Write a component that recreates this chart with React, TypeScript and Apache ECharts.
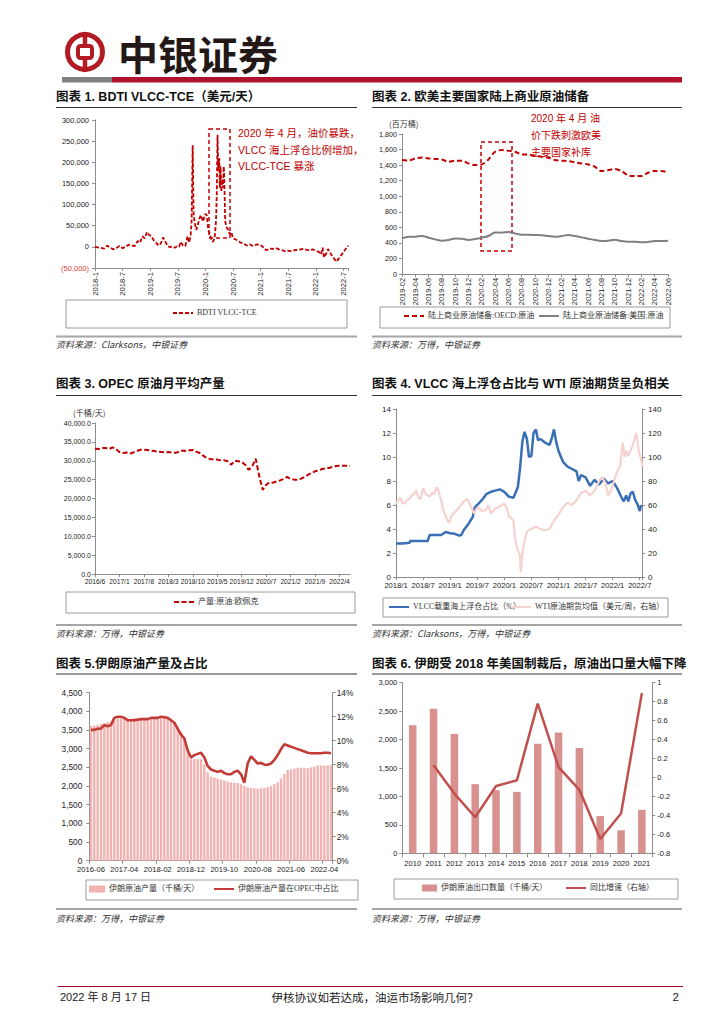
import React, { useEffect, useRef } from "react";
import * as echarts from "echarts";

const RED = "#C00000";
const NARROW = '"Liberation Sans Narrow", "Arial Narrow", "Liberation Sans", Arial, sans-serif';
const SANS = '"Liberation Sans", "Noto Sans CJK SC", sans-serif';
const CJK = '"Noto Sans CJK SC", "Liberation Sans", sans-serif';
const SERIF = '"Liberation Serif", "Noto Sans CJK SC", serif';

function monthsFrom(y: number, m: number, n: number): string[] {
  const out: string[] = [];
  for (let i = 0; i < n; i++) {
    const t = (m - 1) + i;
    const yy = y + Math.floor(t / 12);
    const mm = (t % 12) + 1;
    out.push(`${yy}-${mm < 10 ? "0" + mm : mm}`);
  }
  return out;
}
function monthPos(d: string): number {
  const [y, m, day] = d.split("-").map(Number);
  return (y - 2018) * 12 + (m - 1) + ((day || 1) - 1) / 30;
}

// ---------- Chart 1: BDTI VLCC-TCE ----------
const bdtiTickLabels = ["2018-1", "2018-7", "2019-1", "2019-7", "2020-1", "2020-7", "2021-1", "2021-7", "2022-1", "2022-7"];
const bdtiDates = [
  "2018-01-01", "2018-02-01", "2018-03-01", "2018-03-20", "2018-04-10", "2018-05-01", "2018-05-20", "2018-06-10", "2018-07-01", "2018-07-20", "2018-08-10", "2018-09-01", "2018-09-20", "2018-10-10", "2018-10-25", "2018-11-10", "2018-11-25", "2018-12-10", "2018-12-25",
  "2019-01-10", "2019-01-25", "2019-02-10", "2019-02-25", "2019-03-10", "2019-03-25", "2019-04-10", "2019-04-25", "2019-05-10", "2019-05-25", "2019-06-10", "2019-06-25", "2019-07-10", "2019-07-20", "2019-08-05", "2019-08-20", "2019-09-05", "2019-09-15", "2019-09-25", "2019-10-01", "2019-10-08", "2019-10-14", "2019-10-20", "2019-11-01", "2019-11-10", "2019-11-20", "2019-12-01", "2019-12-15",
  "2020-01-01", "2020-01-10", "2020-01-20", "2020-02-01", "2020-02-10", "2020-02-20", "2020-03-01", "2020-03-10", "2020-03-15", "2020-03-20", "2020-03-25", "2020-04-01", "2020-04-05", "2020-04-10", "2020-04-15", "2020-04-20", "2020-04-25", "2020-05-01", "2020-05-05", "2020-05-10", "2020-05-20", "2020-06-01", "2020-06-10", "2020-06-20", "2020-07-01", "2020-07-15", "2020-08-01", "2020-08-20", "2020-09-10", "2020-10-01", "2020-10-20", "2020-11-10", "2020-12-01", "2020-12-20",
  "2021-01-10", "2021-01-25", "2021-02-10", "2021-03-01", "2021-03-20", "2021-04-10", "2021-05-01", "2021-05-20", "2021-06-10", "2021-07-01", "2021-07-20", "2021-08-10", "2021-09-01", "2021-09-20", "2021-10-10", "2021-11-01", "2021-11-20", "2021-12-10",
  "2022-01-01", "2022-01-20", "2022-02-05", "2022-02-15", "2022-02-25", "2022-03-10", "2022-03-20", "2022-04-01", "2022-04-15", "2022-05-01", "2022-05-15", "2022-06-01", "2022-06-20", "2022-07-10", "2022-07-25", "2022-08-05",
];
const bdtiValues = [
  0, -2000, -4000, 3000, -2000, -6000, -3000, 2000, -3000, 0, 5000, 3000, 2000, 14000, 10000, 25000, 20000, 35000, 28000,
  25000, 15000, 10000, 3000, 8000, 22000, 12000, 2000, -1000, 1000, -2000, 1000, 0, 12000, 3000, 2000, 25000, 10000, 28000, 60000, 240000, 80000, 60000, 40000, 50000, 65000, 75000, 60000,
  78000, 75000, 40000, 30000, 15000, 12000, 20000, 60000, 120000, 265000, 180000, 210000, 140000, 190000, 130000, 160000, 140000, 190000, 150000, 60000, 45000, 40000, 30000, 35000, 20000, 18000, 15000, 10000, 8000, 3000, 6000, 2000, 5000, 6000,
  2000, -5000, -8000, -4000, -5000, -3000, -6000, -8000, -10000, -9000, -10000, -8000, -7000, -6000, -5000, -7000, -8000, -6000,
  -9000, -12000, -18000, -2000, -25000, -15000, -5000, -12000, -20000, -28000, -35000, -28000, -18000, -8000, 0, 3000,
];

// ---------- Chart 2: crude stocks ----------
const stockMonths = monthsFrom(2019, 2, 41);
const oecdStocks = [
  1465, 1460, 1486, 1499, 1486, 1480, 1473, 1443, 1456, 1456, 1422,
  1400, 1409, 1473, 1572, 1593, 1585, 1572, 1537, 1535, 1520, 1507, 1495,
  1465, 1456, 1452, 1435, 1422, 1409, 1379, 1323, 1336, 1349, 1323, 1268,
  1259, 1259, 1302, 1323, 1323, 1306,
];
const usStocks = [
  458, 480, 480, 488, 467, 445, 428, 437, 458, 454, 437,
  450, 467, 488, 535, 531, 540, 522, 505, 505, 501, 497, 488,
  480, 488, 501, 488, 471, 454, 437, 424, 428, 441, 424, 415,
  415, 407, 411, 424, 424, 428,
];

// ---------- Chart 3: OPEC output ----------
const opecMonths = monthsFrom(2016, 6, 74);
const opecOutput = [
  33200, 33100, 33380, 33400, 33100, 33550, 33100,
  32300, 32050, 32200, 31900, 32200, 32600, 32900, 32900, 32850, 32700, 32600, 32400,
  32300, 32200, 32300, 32150, 32100, 32300, 32700, 32600, 32800, 32850, 32400, 32050,
  31350, 30700, 30450, 30300, 30300, 30100, 30100, 29850, 28950, 30000, 29850, 29700,
  28950, 27600, 28500, 30550, 26000, 22300, 23650, 24300, 24200, 24550, 24800, 25150,
  25700, 25150, 25000, 25000, 25250, 25700, 26300, 26750, 27200, 27450, 27800, 28000,
  28100, 28350, 28600, 28700, 28700, 28650, 28600,
];

// ---------- Chart 4: VLCC floating storage vs WTI ----------
const vlccTickLabels = ["2018/1", "2018/7", "2019/1", "2019/7", "2020/1", "2020/7", "2021/1", "2021/7", "2022/1", "2022/7"];
const vlccDates = [
  "2018-01-01", "2018-02-15", "2018-04-01", "2018-04-05", "2018-06-01", "2018-08-01", "2018-08-15", "2018-10-01", "2018-11-01", "2018-12-01",
  "2019-01-01", "2019-02-01", "2019-03-01", "2019-03-15", "2019-04-01", "2019-05-01", "2019-06-01", "2019-06-15", "2019-07-01", "2019-08-01", "2019-09-01", "2019-10-01", "2019-11-01", "2019-12-01",
  "2020-01-01", "2020-02-01", "2020-03-01", "2020-03-15", "2020-04-01", "2020-04-15", "2020-05-01", "2020-05-15", "2020-06-01", "2020-06-15", "2020-07-01", "2020-07-15", "2020-08-01", "2020-08-15", "2020-09-01", "2020-10-01", "2020-11-01", "2020-11-15", "2020-12-01", "2020-12-15",
  "2021-01-01", "2021-02-01", "2021-03-01", "2021-04-01", "2021-05-01", "2021-05-15", "2021-06-01", "2021-07-01", "2021-08-01", "2021-09-01", "2021-10-01", "2021-11-01", "2021-12-01",
  "2022-01-01", "2022-02-01", "2022-03-01", "2022-03-15", "2022-04-01", "2022-04-15", "2022-05-01", "2022-05-15", "2022-06-01", "2022-06-15", "2022-07-01", "2022-07-10",
];
const vlccShare = [
  2.8, 2.8, 2.85, 3.0, 3.0, 3.0, 3.5, 3.5, 3.5, 3.75,
  3.65, 3.6, 3.45, 3.5, 3.9, 4.4, 5.0, 5.8, 6.0, 6.4, 6.9, 7.1, 7.2, 7.3,
  7.1, 6.7, 6.6, 7.0, 7.5, 9.0, 11.3, 12.1, 11.5, 10.0, 10.1, 12.0, 12.3, 11.4, 11.5, 11.2, 11.0, 11.5, 12.3, 11.3,
  10.5, 9.6, 9.2, 9.0, 8.8, 8.0, 8.5, 8.3, 7.6, 8.1, 7.7, 8.2, 7.8,
  8.0, 7.4, 6.6, 6.3, 6.8, 6.3, 7.0, 7.1, 6.4, 6.1, 5.5, 6.0,
];
const wtiDates = [
  "2018-01-01", "2018-01-15", "2018-02-01", "2018-02-15", "2018-03-01", "2018-03-15", "2018-04-01", "2018-04-15", "2018-05-01", "2018-05-15", "2018-06-01", "2018-06-15", "2018-07-01", "2018-07-15", "2018-08-01", "2018-08-15", "2018-09-01", "2018-09-15", "2018-10-01", "2018-10-15", "2018-11-01", "2018-11-15", "2018-12-01", "2018-12-15", "2018-12-25",
  "2019-01-10", "2019-02-01", "2019-03-01", "2019-04-01", "2019-04-25", "2019-05-15", "2019-06-10", "2019-07-01", "2019-07-15", "2019-08-01", "2019-09-01", "2019-09-15", "2019-10-01", "2019-11-01", "2019-12-01",
  "2020-01-01", "2020-01-15", "2020-02-01", "2020-03-01", "2020-03-15", "2020-04-01", "2020-04-15", "2020-04-21", "2020-05-01", "2020-05-15", "2020-06-01", "2020-07-01", "2020-08-01", "2020-09-01", "2020-10-01", "2020-11-01", "2020-12-01",
  "2021-01-01", "2021-02-01", "2021-03-01", "2021-04-01", "2021-05-01", "2021-06-01", "2021-07-01", "2021-08-01", "2021-09-01", "2021-10-01", "2021-10-20", "2021-11-15", "2021-12-01", "2021-12-20",
  "2022-01-10", "2022-02-01", "2022-02-20", "2022-03-08", "2022-03-20", "2022-04-01", "2022-04-15", "2022-05-01", "2022-05-15", "2022-06-08", "2022-06-25", "2022-07-10", "2022-07-20",
];
const wtiPrice = [
  61, 64, 66, 61, 62, 64, 65, 68, 69, 72, 66, 65, 74, 70, 68, 67, 70, 69, 75, 71, 64, 56, 51, 47, 45,
  51, 54, 58, 63, 65, 60, 53, 58, 57, 55, 56, 60, 53, 57, 59,
  61, 58, 51, 47, 30, 22, 18, 4, 20, 30, 38, 40, 42, 40, 39, 40, 47,
  52, 58, 62, 60, 64, 70, 72, 68, 72, 80, 83, 78, 68, 72,
  80, 88, 92, 112, 100, 105, 101, 106, 110, 120, 105, 98, 92,
];

// ---------- Chart 5: Iran output & OPEC share ----------
const iranMonths = monthsFrom(2016, 6, 73);
const iranOutput = [
  3607, 3620, 3630, 3660, 3690, 3710, 3724,
  3760, 3810, 3810, 3800, 3780, 3770, 3820, 3830, 3830, 3820, 3820, 3830,
  3820, 3820, 3820, 3830, 3830, 3800, 3720, 3580, 3450, 3300, 2950, 2740,
  2720, 2720, 2720, 2580, 2370, 2250, 2230, 2200, 2170, 2150, 2120, 2100,
  2090, 2080, 2050, 2000, 1965, 1950, 1940, 1930, 1940, 1950, 1970, 2000,
  2050, 2100, 2200, 2320, 2430, 2450, 2470, 2490, 2490, 2480, 2480, 2500,
  2520, 2550, 2550, 2550, 2550, 2570,
];
const iranShare = [
  10.9, 10.9, 11.0, 11.0, 11.3, 11.2, 11.3,
  11.9, 12.0, 12.0, 11.9, 11.7, 11.7, 11.7, 11.75, 11.8, 11.8, 11.8, 11.9,
  11.9, 11.9, 12.0, 11.95, 11.9, 11.7, 11.5, 11.0, 10.5, 10.2, 9.2, 8.6,
  8.8, 8.9, 9.0, 8.6, 7.9, 7.6, 7.5, 7.4, 7.5, 7.3, 7.2, 7.2,
  7.4, 7.5, 7.2, 6.5, 8.1, 8.7, 8.4, 8.1, 8.15, 8.0, 8.0, 8.1,
  8.4, 8.8, 9.3, 9.7, 9.6, 9.5, 9.4, 9.3, 9.2, 9.1, 9.0, 8.95,
  8.95, 8.95, 8.95, 9.0, 9.0, 8.95,
];

// ---------- Chart 6: Iran exports ----------
const exportYears = ["2010", "2011", "2012", "2013", "2014", "2015", "2016", "2017", "2018", "2019", "2020", "2021"];
const iranExports = [2250, 2540, 2100, 1215, 1110, 1080, 1925, 2125, 1850, 655, 405, 765];
const exportYoY = [null, 0.13, -0.17, -0.42, -0.09, -0.03, 0.78, 0.11, -0.13, -0.65, -0.38, 0.89];

// ---------- helpers ----------
const AX = "#8c8c8c";
const axisLine = { show: true, onZero: false, lineStyle: { color: AX, width: 1 } };
const axisTick = { show: true, length: 3, lineStyle: { color: AX } };
function lbl(fontSize: number, extra: any = {}) {
  return { color: "#222", fontFamily: NARROW, fontSize, hideOverlap: false, ...extra };
}
function comma(v: number) {
  return Math.abs(v).toString().replace(/\B(?=(\d{3})+(?!\d))/g, ",");
}
function txt(x: number, y: number, text: string, o: any = {}) {
  return {
    type: "text", x, y, silent: true, z: 10,
    style: {
      text, fill: o.fill ?? "#222", fontSize: o.size ?? 10, fontFamily: o.family ?? SANS,
      fontWeight: o.weight ?? "normal", fontStyle: o.italic ? "italic" : "normal",
      textAlign: o.align ?? "left", textVerticalAlign: "middle", verticalAlign: "middle",
    },
  };
}
function hline(x1: number, x2: number, y: number, stroke: string, lw: number) {
  return { type: "line", silent: true, shape: { x1, y1: y, x2, y2: y }, style: { stroke, lineWidth: lw } };
}
function box(x: number, y: number, w: number, h: number, stroke = "#9a9a9a", dash?: number[], lw = 1) {
  return { type: "rect", silent: true, shape: { x, y, width: w, height: h }, style: { fill: "none", stroke, lineWidth: lw, lineDash: dash } };
}
function legendAt(name: string, left: number, cy: number, extra: any = {}) {
  return {
    data: [name], left, top: cy - 5, padding: 0, itemWidth: 20, itemHeight: 7, itemGap: 4,
    textStyle: { fontSize: 8, fontFamily: SERIF, color: "#333", padding: [0, 0, 0, -1] },
    itemStyle: { opacity: 0 },
    selectedMode: false, ...extra,
  };
}

function buildOption(): any {
  const BOC = "#B31B24";
  const titleFont = { size: 12.5, weight: "bold", family: SANS, fill: "#111" };
  const srcFont = { size: 9, italic: true, family: CJK, fill: "#333" };
  const graphic: any[] = [
    // header logo
    { type: "circle", silent: true, shape: { cx: 85, cy: 52, r: 17.5 }, style: { fill: "none", stroke: BOC, lineWidth: 5 } },
    { type: "rect", silent: true, shape: { x: 78, y: 46, width: 14, height: 12, r: 2.5 }, style: { fill: "none", stroke: BOC, lineWidth: 4 } },
    { type: "line", silent: true, shape: { x1: 85, y1: 34, x2: 85, y2: 46 }, style: { stroke: BOC, lineWidth: 4.5 } },
    { type: "line", silent: true, shape: { x1: 85, y1: 58, x2: 85, y2: 70 }, style: { stroke: BOC, lineWidth: 4.5 } },
    txt(118, 53, "中银证券", { size: 40, weight: "bold", family: CJK, fill: "#231815" }),
    { type: "rect", silent: true, shape: { x: 62, y: 77, width: 50, height: 5.5 }, style: { fill: "#808080" } },
    { type: "rect", silent: true, shape: { x: 112, y: 77, width: 570, height: 5.5 }, style: { fill: "#B0122D" } },

    // section titles
    txt(56, 97, "图表 1. BDTI VLCC-TCE（美元/天）", titleFont),
    txt(372, 97, "图表 2. 欧美主要国家陆上商业原油储备", titleFont),
    hline(56, 357, 107.5, "#333", 1),
    hline(372, 682, 107.5, "#333", 1),
    txt(56, 384, "图表 3. OPEC 原油月平均产量", titleFont),
    txt(372, 384, "图表 4. VLCC 海上浮仓占比与 WTI 原油期货呈负相关", titleFont),
    hline(56, 357, 395.5, "#333", 1),
    hline(372, 682, 395.5, "#333", 1),
    txt(56, 664, "图表 5.伊朗原油产量及占比", titleFont),
    txt(372, 664, "图表 6. 伊朗受 2018 年美国制裁后，原油出口量大幅下降", titleFont),
    hline(56, 357, 674, "#333", 1),
    hline(372, 682, 674, "#333", 1),

    // bottom rules & sources
    hline(56, 357, 336.5, "#a6a6a6", 2),
    hline(372, 682, 336.5, "#a6a6a6", 2),
    txt(56, 344, "资料来源：Clarksons，中银证券", srcFont),
    txt(372, 344, "资料来源：万得，中银证券", srcFont),
    hline(56, 357, 625, "#a6a6a6", 2),
    hline(372, 682, 625, "#a6a6a6", 2),
    txt(56, 633, "资料来源：万得，中银证券", srcFont),
    txt(372, 633, "资料来源：Clarksons，万得，中银证券", srcFont),
    hline(56, 357, 909, "#a6a6a6", 2),
    hline(372, 682, 909, "#a6a6a6", 2),
    txt(56, 918, "资料来源：万得，中银证券", srcFont),
    txt(372, 918, "资料来源：万得，中银证券", srcFont),

    // legend boxes
    box(66, 300, 281, 28),
    box(380, 307, 290, 21),
    box(66, 592, 289, 21),
    box(383, 598, 285, 19),
    box(86, 880, 272, 20),
    box(394, 879, 284, 20),

    // annotations
    box(209, 129, 21, 109, RED, [4, 3], 1.5),
    txt(238, 133, "2020 年 4 月，油价暴跌，", { size: 10.5, fill: RED }),
    txt(238, 150, "VLCC 海上浮仓比例增加，", { size: 10.5, fill: RED }),
    txt(238, 166, "VLCC-TCE 暴涨", { size: 10.5, fill: RED }),
    box(481, 142, 31, 109, RED, [4, 3], 1.5),
    txt(531, 118, "2020 年 4 月 油", { size: 10, fill: RED }),
    txt(531, 135, "价下跌刺激欧美", { size: 10, fill: RED }),
    txt(531, 152, "主要国家补库", { size: 10, fill: RED }),

    // axis unit labels
    txt(389, 123, "(百万桶)", { size: 8, family: CJK, fill: "#333" }),
    txt(73, 412, "(千桶/天)", { size: 8, family: CJK, fill: "#333" }),

    // footer
    hline(58, 683, 986.5, "#9E0B23", 1.2),
    txt(60, 997, "2022 年 8 月 17 日", { size: 11, family: SANS, fill: "#222" }),
    txt(375, 997, "伊核协议如若达成，油运市场影响几何？", { size: 11.5, family: CJK, fill: "#222", align: "center" }),
    txt(679, 997, "2", { size: 11.5, family: SANS, fill: "#222", align: "right" }),
  ];

  const grid = [
    { left: 95, top: 120, width: 253, height: 148 },
    { left: 402, top: 134, width: 266, height: 140 },
    { left: 95, top: 423, width: 255, height: 151 },
    { left: 396, top: 409, width: 246, height: 168 },
    { left: 89.3, top: 692.7, width: 243.4, height: 168 },
    { left: 402.3, top: 682.7, width: 250, height: 170.6 },
  ].map((g) => ({ ...g, containLabel: false, outerBoundsMode: "none" }));

  const xAxis = [
    {
      gridIndex: 0, type: "value", min: 0, max: 55, interval: 6, axisLine, axisTick, splitLine: { show: false },
      axisLabel: lbl(7.6, { rotate: 90, margin: 4, formatter: (v: number) => (v % 6 === 0 ? bdtiTickLabels[v / 6] ?? "" : "") }),
    },
    {
      gridIndex: 1, type: "category", data: stockMonths, boundaryGap: false, axisLine,
      axisTick: { ...axisTick, interval: 1 }, axisLabel: lbl(7.4, { rotate: 90, interval: 1, margin: 4 }),
    },
    {
      gridIndex: 2, type: "category", data: opecMonths, boundaryGap: false, axisLine,
      axisTick: { ...axisTick, interval: 6 },
      axisLabel: lbl(6.7, { interval: 6, margin: 4, formatter: (v: string) => { const [y, m] = v.split("-"); return `${y}/${Number(m)}`; } }),
    },
    {
      gridIndex: 3, type: "value", min: 0, max: 54.5, interval: 6, axisLine, axisTick, splitLine: { show: false },
      axisLabel: lbl(7.6, { margin: 4, formatter: (v: number) => (v % 6 === 0 ? vlccTickLabels[v / 6] ?? "" : "") }),
    },
    {
      gridIndex: 4, type: "category", data: iranMonths, boundaryGap: true, axisLine,
      axisTick: { ...axisTick, interval: 9 }, axisLabel: lbl(7.6, { interval: 9, margin: 5 }),
    },
    {
      gridIndex: 5, type: "category", data: exportYears, boundaryGap: true, axisLine,
      axisTick: { ...axisTick, length: 4 }, axisLabel: lbl(7.5, { interval: 0, margin: 6 }),
    },
  ];

  const yv = (o: any) => ({ type: "value", axisLine, axisTick, splitLine: { show: false }, ...o });
  const yAxis = [
    yv({
      gridIndex: 0, min: -50000, max: 300000, interval: 50000,
      axisLabel: lbl(7.5, { margin: 6, formatter: (v: number) => (v < 0 ? `(${comma(v)})` : comma(v)), color: (v: any) => (Number(v) < 0 ? "#E0433A" : "#222") }),
    }),
    yv({ gridIndex: 1, min: 0, max: 1800, interval: 200, axisLabel: lbl(7.2, { margin: 5, formatter: (v: number) => comma(v) }) }),
    yv({ gridIndex: 2, min: 0, max: 40000, interval: 5000, axisLabel: lbl(7, { margin: 4, formatter: (v: number) => `${comma(v)}.0` }) }),
    yv({ gridIndex: 3, min: 0, max: 14, interval: 2, axisLabel: lbl(8, { margin: 5 }) }),
    yv({ gridIndex: 3, position: "right", min: 0, max: 140, interval: 20, axisLabel: lbl(8, { margin: 6 }) }),
    yv({ gridIndex: 4, min: 0, max: 4500, interval: 500, axisLabel: lbl(8.3, { margin: 7, formatter: (v: number) => comma(v) }) }),
    yv({ gridIndex: 4, position: "right", min: 0, max: 14, interval: 2, axisLabel: lbl(8.3, { margin: 4, formatter: (v: number) => `${v}%` }) }),
    yv({ gridIndex: 5, min: 0, max: 3000, interval: 500, axisLabel: lbl(7.5, { margin: 5 }) }),
    yv({
      gridIndex: 5, position: "right", min: -0.8, max: 1, interval: 0.2,
      axisLabel: lbl(7.5, { margin: 5, formatter: (v: number) => String(Number(v.toFixed(1))) }),
    }),
  ];

  const series = [
    {
      type: "line", name: "BDTI VLCC-TCE", xAxisIndex: 0, yAxisIndex: 0, symbol: "none",
      data: bdtiDates.map((d, i) => [monthPos(d), bdtiValues[i]]),
      lineStyle: { color: RED, width: 1.8, type: [4, 2] }, itemStyle: { color: RED },
    },
    {
      type: "line", name: "陆上商业原油储备:OECD:原油", xAxisIndex: 1, yAxisIndex: 1, symbol: "none", smooth: 0.3,
      data: oecdStocks, lineStyle: { color: RED, width: 2, type: [5, 3] }, itemStyle: { color: RED },
    },
    {
      type: "line", name: "陆上商业原油储备:美国:原油", xAxisIndex: 1, yAxisIndex: 1, symbol: "none", smooth: 0.3,
      data: usStocks, lineStyle: { color: "#808080", width: 2 }, itemStyle: { color: "#808080" },
    },
    {
      type: "line", name: "产量:原油:欧佩克", xAxisIndex: 2, yAxisIndex: 2, symbol: "none",
      data: opecOutput, lineStyle: { color: RED, width: 2, type: [5, 2.5] }, itemStyle: { color: RED },
    },
    {
      type: "line", name: "VLCC载重海上浮仓占比（%）", xAxisIndex: 3, yAxisIndex: 3, symbol: "none",
      data: vlccDates.map((d, i) => [monthPos(d), vlccShare[i]]),
      lineStyle: { color: "#3A6FB6", width: 2.5 }, itemStyle: { color: "#3A6FB6" },
    },
    {
      type: "line", name: "WTI原油期货均值（美元/周，右轴）", xAxisIndex: 3, yAxisIndex: 4, symbol: "none",
      data: wtiDates.map((d, i) => [monthPos(d), wtiPrice[i]]),
      lineStyle: { color: "#F6D2D0", width: 2.2 }, itemStyle: { color: "#F6D2D0" },
    },
    {
      type: "bar", name: "伊朗原油产量（千桶/天）", xAxisIndex: 4, yAxisIndex: 5,
      data: iranOutput, barCategoryGap: "28%", itemStyle: { color: "#F2B2B1" },
    },
    {
      type: "line", name: "伊朗原油产量在OPEC中占比", xAxisIndex: 4, yAxisIndex: 6, symbol: "none",
      data: iranShare, lineStyle: { color: "#C33B36", width: 2.6 }, itemStyle: { color: "#C33B36" },
    },
    {
      type: "bar", name: "伊朗原油出口数量（千桶/天）", xAxisIndex: 5, yAxisIndex: 7,
      data: iranExports, barWidth: 7.5, itemStyle: { color: "#D9918F" },
    },
    {
      type: "line", name: "同比增速（右轴）", xAxisIndex: 5, yAxisIndex: 8, symbol: "none",
      data: exportYoY, lineStyle: { color: "#C0504D", width: 2.5 }, itemStyle: { color: "#C0504D" },
    },
  ];

  const barLegend = { icon: "rect", itemStyle: {} };
  const legend = [
    legendAt("BDTI VLCC-TCE", 172, 314),
    legendAt("陆上商业原油储备:OECD:原油", 403, 317),
    legendAt("陆上商业原油储备:美国:原油", 538, 317),
    legendAt("产量:原油:欧佩克", 173, 603),
    legendAt("VLCC载重海上浮仓占比（%）", 388, 608),
    legendAt("WTI原油期货均值（美元/周，右轴）", 510, 608),
    legendAt("伊朗原油产量（千桶/天）", 89, 890, { ...barLegend, itemWidth: 16 }),
    legendAt("伊朗原油产量在OPEC中占比", 213, 890),
    legendAt("伊朗原油出口数量（千桶/天）", 422, 889, { ...barLegend, itemWidth: 15 }),
    legendAt("同比增速（右轴）", 565, 889),
  ];

  return { animation: false, backgroundColor: "#fff", grid, xAxis, yAxis, series, legend, graphic: { elements: graphic } };
}

export default function App() {
  const ref = useRef<HTMLDivElement>(null);
  useEffect(() => {
    if (!ref.current) return;
    const chart = echarts.init(ref.current, undefined, { renderer: "svg" });
    chart.setOption(buildOption());
    return () => chart.dispose();
  }, []);
  return <div ref={ref} style={{ position: "absolute", left: 0, top: 0, width: 725, height: 1024, background: "#fff" }} />;
}
